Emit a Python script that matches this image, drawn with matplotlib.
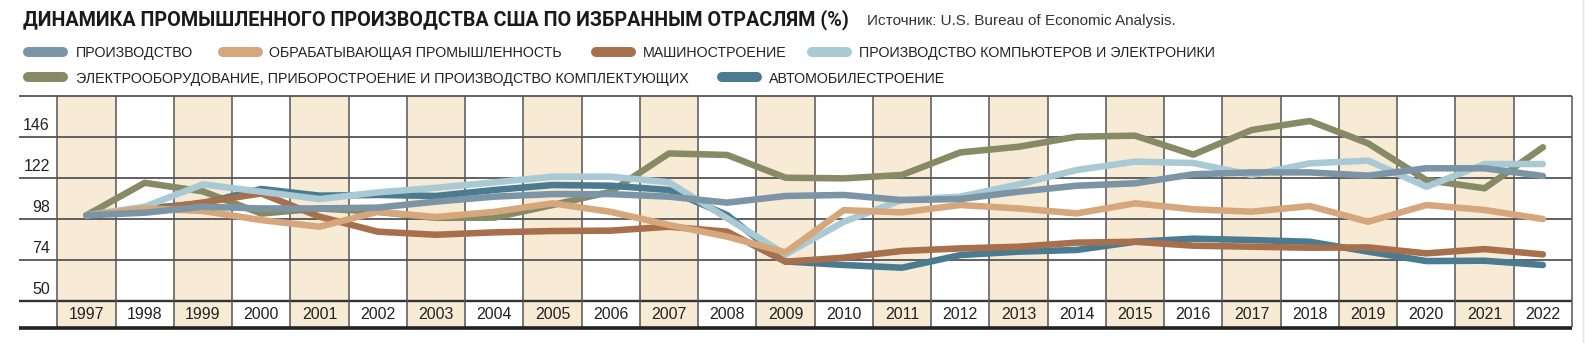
import numpy as np
import matplotlib
matplotlib.use('Agg')
import matplotlib.pyplot as plt
from matplotlib.lines import Line2D

# values, index 1997 = 100
years = list(range(1997, 2023))

proizvodstvo = [100, 101.5, 105, 104, 104, 104.5, 108, 110.9, 112.4, 112.4, 110.9, 107.4, 111.3,
                111.9, 108.9, 109.5, 113.8, 117.3, 118.7, 124, 125.1, 125.1, 123.2, 127.5, 127.5, 123]
obrabat = [100, 104, 102.5, 97.2, 93.3, 102, 99, 102, 107, 102, 94.3, 87.5, 78.3,
           103, 101.7, 106, 104, 101.1, 107, 103.5, 102.1, 105.4, 96.2, 106, 103.1, 97.8]
mashinostr = [100, 103, 107.5, 112.8, 99.2, 90.4, 88.6, 90, 90.8, 91, 93.3, 90.4, 72.8,
              75.2, 79.1, 80.6, 81.6, 84, 84.5, 82.2, 81.6, 81, 81.2, 77.7, 80.2, 77.1]
kompyutery = [100, 105, 118.1, 113.8, 109.5, 113.4, 116.1, 119.3, 122.6, 122.6, 119.3, 98.2, 77.1,
              96.2, 109, 110.9, 118.1, 126.5, 131.4, 130.6, 123.6, 130.4, 132, 116.7, 130, 130]
elektro = [100, 119, 114, 101, 104, 102, 98.5, 98.6, 106, 113.8, 136.2, 135.3, 122,
           121.6, 123.6, 136.8, 140.1, 146, 146.6, 135.5, 149.9, 155.2, 142.1, 120.6, 115.8, 139.8]
avto = [100, 104, 107, 115.4, 111.5, 111.9, 111.3, 114.8, 117.7, 117.3, 114.8, 100.1, 73,
        70.9, 69.3, 76.7, 78.7, 79.7, 84.5, 86.3, 85.5, 84.5, 78.7, 73.2, 73.4, 70.9]

yticks = [50, 74, 98, 122, 146, 170]

title = 'ДИНАМИКА ПРОМЫШЛЕННОГО ПРОИЗВОДСТВА США ПО ИЗБРАННЫМ ОТРАСЛЯМ (%)'
source = 'Источник: U.S. Bureau of Economic Analysis.'

# label, data, colour, zorder
series = [
    ('ПРОИЗВОДСТВО', proizvodstvo, '#7b95a6', 8),
    ('ОБРАБАТЫВАЮЩАЯ ПРОМЫШЛЕННОСТЬ', obrabat, '#d6a77c', 7),
    ('МАШИНОСТРОЕНИЕ', mashinostr, '#a86f4c', 5),
    ('ПРОИЗВОДСТВО КОМПЬЮТЕРОВ И ЭЛЕКТРОНИКИ', kompyutery, '#a9c9d5', 6),
    ('ЭЛЕКТРООБОРУДОВАНИЕ, ПРИБОРОСТРОЕНИЕ И ПРОИЗВОДСТВО КОМПЛЕКТУЮЩИХ', elektro, '#868b66', 3),
    ('АВТОМОБИЛЕСТРОЕНИЕ', avto, '#4a7b90', 4),
]

W, H = 1585, 343
fig = plt.figure(figsize=(W / 100, H / 100), dpi=100)
fig.patch.set_facecolor('white')


def fx(x):
    return x / W


def fy(y):
    return 1 - y / H


x_left = 1995.843
y_bottom = 32.26
row_bottom = 34.8
ax = fig.add_axes([fx(19), fy(331), fx(1572) - fx(19), fy(95.7) - fy(331)])
ax.set_xlim(x_left, years[-1] + 0.5)
ax.set_ylim(y_bottom, yticks[-1])
ax.axis('off')

# shaded columns
for i, yr in enumerate(years):
    if i % 2 == 0:
        ax.fill_between([yr - 0.5, yr + 0.5], row_bottom, yticks[-1],
                        color='#f8ebd6', lw=0, zorder=0)

ax.hlines(yticks[1:], x_left, years[-1] + 0.5, colors='#555555', lw=1.3, zorder=1, clip_on=False)
ax.hlines(yticks[0], x_left, years[-1] + 0.5, colors='#333333', lw=1.7, zorder=1, clip_on=False)
ax.vlines(np.arange(years[0] - 0.5, years[-1] + 1), row_bottom, yticks[-1],
          colors='#555555', lw=1.1, zorder=1, clip_on=False)
ax.hlines(33.8, x_left, years[-1] + 0.5, colors='#222222', lw=2.6, zorder=2, clip_on=False)

num_font = ['Liberation Sans', 'DejaVu Sans']
for v in yticks[:-1]:
    ax.text(years[0] - 0.625, v + 6.7, str(v), ha='right', va='center',
            fontsize=11.5, color='#222222', family=num_font)
for yr in years:
    ax.text(yr, 42.2, str(yr), ha='center', va='center', fontsize=11.5,
            color='#222222', family=num_font)

for label, data, color, z in series:
    ax.plot(years, data, color=color, lw=4.7, solid_capstyle='round',
            solid_joinstyle='round', zorder=z)

# texts above the chart, sized to the widths in the reference
renderer = fig.canvas.get_renderer()


def put(x0, x1, y_base, s, **kw):
    t = fig.text(fx(x0), fy(y_base), s, ha='left', va='baseline', **kw)
    w = t.get_window_extent(renderer).width
    t.set_fontsize(t.get_fontsize() * (x1 - x0) / w)
    return t


put(22.7, 850, 25.5, title, fontsize=16, fontweight='bold', color='#1a1a1a',
    family=['Liberation Sans Narrow', 'Roboto', 'Liberation Sans', 'DejaVu Sans'])
put(866.7, 1174, 25, source, fontsize=11, color='#333333',
    family=['Liberation Sans', 'DejaVu Sans'])

# legend: (swatch start, swatch end, text start, text end, row centre)
legend_pos = [
    (22.7, 68.3, 76, 193, 51.7),
    (218, 263, 269, 565, 51.7),
    (590.7, 636, 643.3, 786.7, 51.7),
    (806.7, 851.7, 859.3, 1221.7, 51.7),
    (22.7, 68.3, 76, 691.7, 77.3),
    (716.7, 761.7, 769.3, 945, 77.3),
]
texts = []
for (label, data, color, z), (s0, s1, t0, t1, yc) in zip(series, legend_pos):
    fig.add_artist(Line2D([fx(s0 + 5), fx(s1 - 5)], [fy(yc), fy(yc)], color=color,
                          lw=7.2, solid_capstyle='round'))
    texts.append(put(t0, t1, yc + 5.5, label, fontsize=11, color='#222222',
                     family=['Liberation Sans', 'DejaVu Sans']))
size = np.mean([t.get_fontsize() for t in texts])
for t in texts:
    t.set_fontsize(size)

fig.add_artist(Line2D([fx(1583), fx(1583)], [0, 1], color='#e4e4e4', lw=1))

fig.savefig('out.png', dpi=100)
